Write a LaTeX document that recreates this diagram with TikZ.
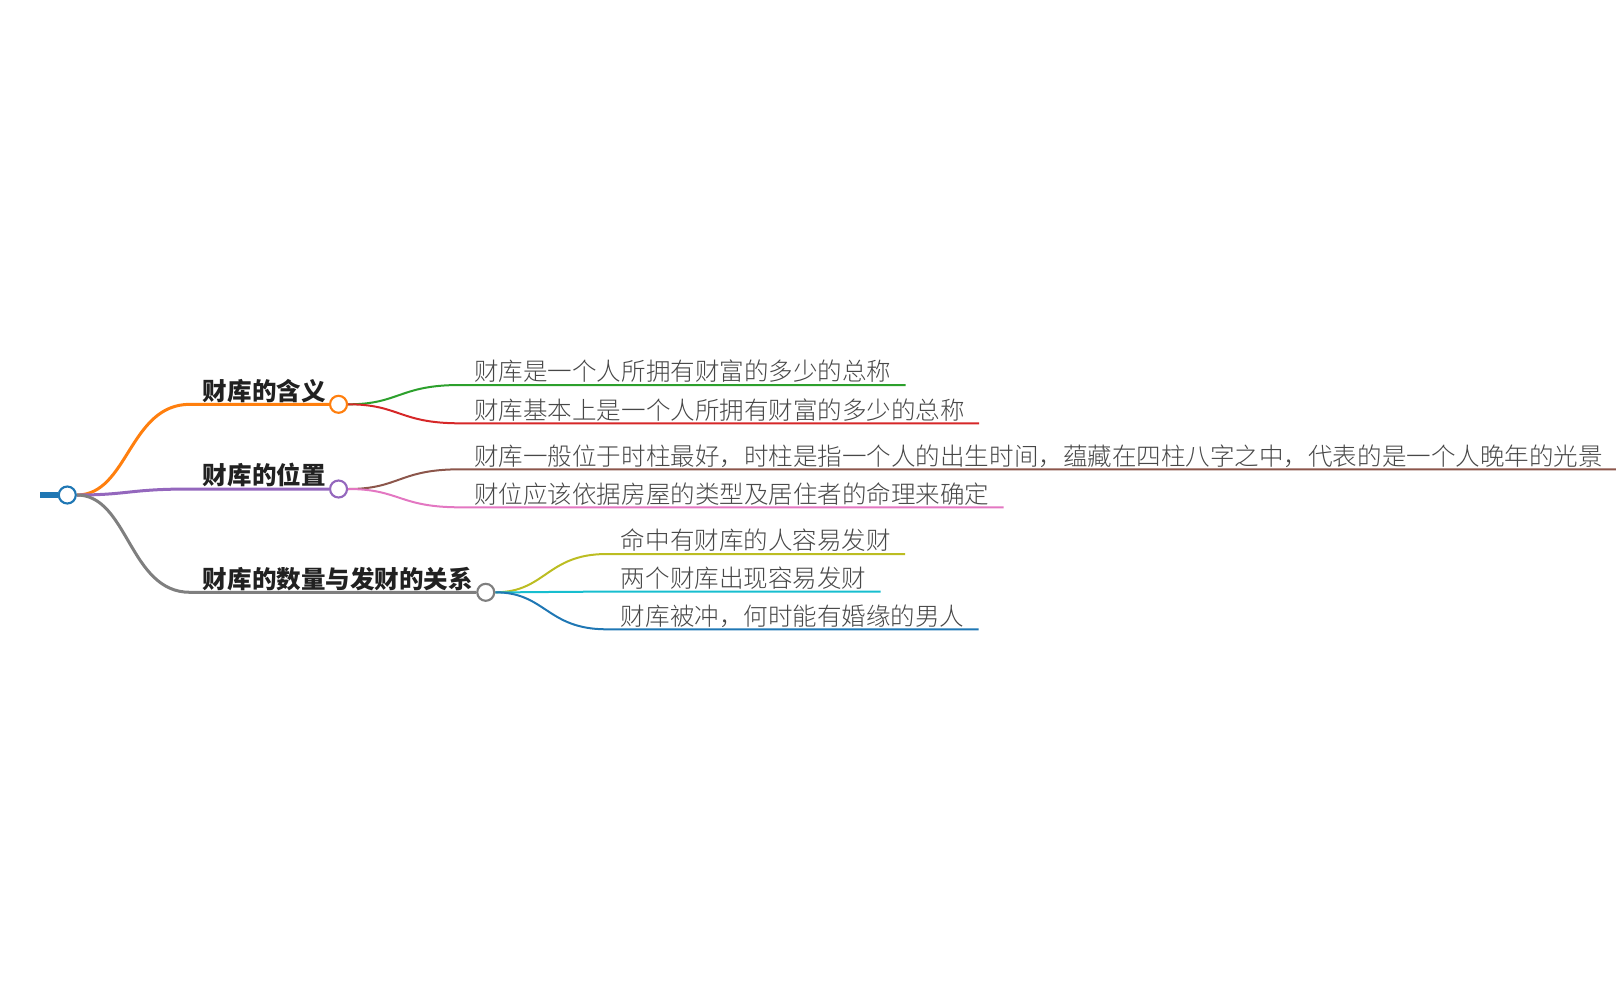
\documentclass[tikz,border=0pt]{standalone}
\usepackage{fontspec}
\setmainfont{Noto Sans CJK SC}
\newfontfamily\leaffont{Noto Sans CJK SC Light}
\usepackage{xcolor}
\usetikzlibrary{positioning,backgrounds}
\definecolor{cblue}{HTML}{1F77B4}
\definecolor{corange}{HTML}{FF7F0E}
\definecolor{cgreen}{HTML}{2CA02C}
\definecolor{cred}{HTML}{D62728}
\definecolor{cpurple}{HTML}{9467BD}
\definecolor{cbrown}{HTML}{8C564B}
\definecolor{cpink}{HTML}{E377C2}
\definecolor{cgrey}{HTML}{7F7F7F}
\definecolor{colive}{HTML}{BCBD22}
\definecolor{ccyan}{HTML}{17BECF}

\begin{document}
\begin{tikzpicture}[
  x=0.75pt, y=-0.75pt,
  topic/.style={anchor=south west, inner xsep=9.5pt, inner ysep=0pt,
                text depth=3pt, text=black!87,
                font=\fontsize{18.4pt}{22pt}\selectfont\bfseries},
  leaf/.style={anchor=south west, inner xsep=10.5pt, inner ysep=0pt,
               text depth=3pt, text=black!72,
               font=\fontsize{18.4pt}{22pt}\leaffont},
  dot/.style={circle, draw=#1, fill=white, line width=1.6pt,
              minimum size=12.75pt, inner sep=0pt},
  limb/.style={draw=#1, line width=2.25pt},
  twig/.style={draw=#1, line width=1.5pt}
]
\useasboundingbox (0,0) rectangle (1616,986);

% root and topics
\coordinate (stub) at (40,495);
\node[dot=cblue] (root) at (67.3,495) {};
\node[topic] (t1) at (190,404.3) {财库的含义};
\node[topic] (t2) at (190,489) {财库的位置};
\node[topic] (t3) at (190,592.3) {财库的数量与发财的关系};
\node[dot=corange] (c1) at (t1.south east) {};
\node[dot=cpurple] (c2) at (t2.south east) {};
\node[dot=cgrey] (c3) at (t3.south east) {};

% leaves
\node[leaf] (l1) at (460,385) {财库是一个人所拥有财富的多少的总称};
\node[leaf] (l2) at (460,423.3) {财库基本上是一个人所拥有财富的多少的总称};
\node[leaf] (l3) at (460,469.3) {财库一般位于时柱最好，时柱是指一个人的出生时间，蕴藏在四柱八字之中，代表的是一个人晚年的光景};
\node[leaf] (l4) at (460,507.3) {财位应该依据房屋的类型及居住者的命理来确定};
\node[leaf] (l5) at (606.7,554) {命中有财库的人容易发财};
\node[leaf] (l6) at (606.7,591.7) {两个财库出现容易发财};
\node[leaf] (l7) at (606.7,629.3) {财库被冲，何时能有婚缘的男人};

\begin{scope}[on background layer]
\draw[cblue, line width=4.5pt] (stub) -- (root);
\draw[limb=corange] (root) .. controls +(61,0) and +(-61,0) .. (t1.south west) -- (c1);
\draw[limb=cpurple] (root) .. controls +(61,0) and +(-61,0) .. (t2.south west) -- (c2);
\draw[limb=cgrey] (root) .. controls +(61,0) and +(-61,0) .. (t3.south west) -- (c3);
\draw[twig=cgreen] (c1) .. controls +(61,0) and +(-61,0) .. (l1.south west) -- (l1.south east);
\draw[twig=cred] (c1) .. controls +(61,0) and +(-61,0) .. (l2.south west) -- (l2.south east);
\draw[twig=cbrown] (c2) .. controls +(61,0) and +(-61,0) .. (l3.south west) -- (l3.south east);
\draw[twig=cpink] (c2) .. controls +(61,0) and +(-61,0) .. (l4.south west) -- (l4.south east);
\draw[twig=colive] (c3) .. controls +(60,0) and +(-60,0) .. (l5.south west) -- (l5.south east);
\draw[twig=ccyan] (c3) .. controls +(60,0) and +(-60,0) .. (l6.south west) -- (l6.south east);
\draw[twig=cblue] (c3) .. controls +(60,0) and +(-60,0) .. (l7.south west) -- (l7.south east);
\end{scope}
\end{tikzpicture}
\end{document}
